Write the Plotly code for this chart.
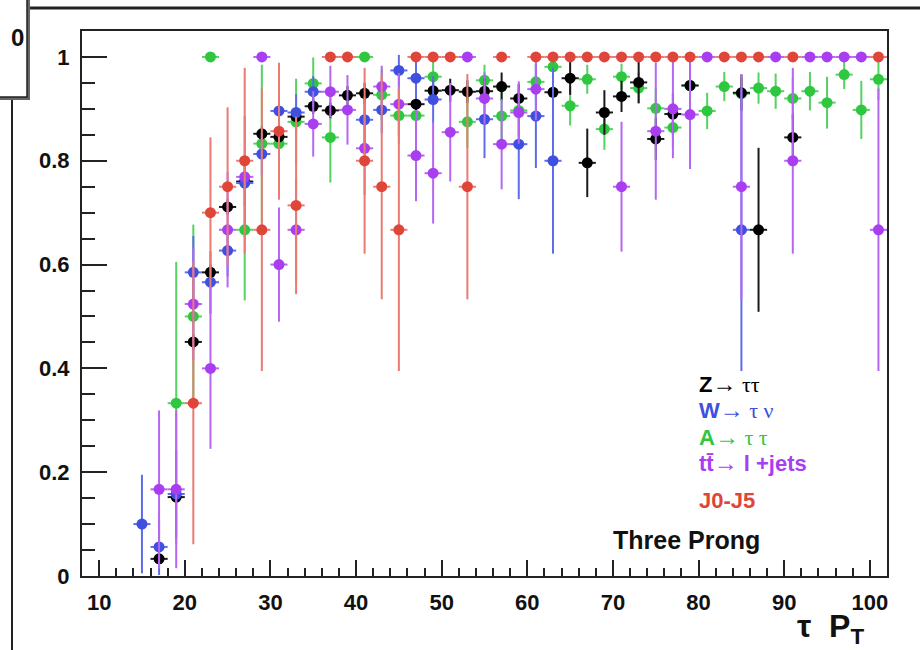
import plotly.graph_objects as go

# ---------------- data ----------------
bins = list(range(15, 102, 2))  # tau pT bin centres (GeV)
N = None

z_tautau = [N, 0.033, 0.152, 0.451, 0.585, 0.711, 0.760, 0.852, 0.846, 0.885, 0.905, 0.897, 0.926, 0.930,
            N, N, 0.909, 0.935, 0.936, 0.933, 0.934, 0.943, 0.920, N, 0.932, 0.959, 0.796, 0.893, 0.924,
            0.951, 0.842, 0.890, 0.945, N, N, 0.931, 0.667, N, 0.845, N, N, N, N, N]
z_err = [N, 0.010, 0.012, 0.015, 0.015, 0.015, 0.015, 0.015, 0.015, 0.015, 0.015, 0.015, 0.018, 0.020,
         N, N, 0.020, 0.020, 0.022, 0.022, 0.025, 0.027, 0.028, N, 0.035, 0.032, 0.066, 0.043, 0.030,
         0.040, 0.040, 0.040, 0.040, N, N, 0.035, 0.158, N, 0.045, N, N, N, N, N]

w_taunu = [0.100, 0.056, 0.158, 0.585, 0.566, 0.627, 0.757, 0.813, 0.896, 0.893, 0.933, N, N, 0.879,
           0.898, 0.974, 0.959, 0.918, N, N, 0.880, N, 0.832, 0.886, 0.800, N, N, N, N,
           N, N, N, N, N, N, 0.667, N, N, N, N, N, N, N, N]
w_err = [0.095, 0.054, 0.084, 0.070, 0.060, 0.050, 0.045, 0.040, 0.035, 0.035, 0.030, N, N, 0.045,
         0.045, 0.030, 0.040, 0.045, N, N, 0.075, N, 0.106, 0.100, 0.179, N, N, N, N,
         N, N, N, N, N, N, 0.272, N, N, N, N, N, N, N, N]

a_tautau = [N, N, 0.333, 0.500, 1.000, N, 0.667, 0.833, 0.833, 0.875, 0.949, 0.845, N, 1.000,
            0.927, 0.887, 0.887, 0.962, N, 0.875, 0.955, 0.886, 0.897, 0.952, 0.981, 0.906, 0.957, 0.861, 0.962,
            0.940, 0.901, 0.864, 0.945, 0.896, 0.943, 0.929, 0.940, 0.934, 0.920, 0.934, 0.912, 0.966, 0.898, 0.957]
a_err = [N, N, 0.272, 0.177, 0.0, N, 0.136, 0.152, 0.100, 0.083, 0.050, 0.087, N, 0.0,
         0.050, 0.055, 0.055, 0.030, N, 0.050, 0.030, 0.050, 0.050, 0.035, 0.020, 0.038, 0.028, 0.040, 0.025,
         0.030, 0.040, 0.040, 0.030, 0.035, 0.028, 0.030, 0.030, 0.034, 0.040, 0.037, 0.050, 0.028, 0.056, 0.040]

ttbar = [N, 0.167, 0.167, 0.524, 0.400, 0.667, 0.769, 1.000, 0.600, 0.667, 0.871, 0.933, 0.898, 0.824,
         0.943, 0.909, 0.810, 0.776, 0.855, 1.000, 0.920, 0.832, 0.893, 0.938, N, N, N, N, 0.750,
         N, 0.857, 0.900, 0.889, 1.000, N, 0.750, N, 1.000, 0.800, 1.000, 1.000, 1.000, 1.000, 0.667]
tt_err = [N, 0.152, 0.152, 0.109, 0.155, 0.111, 0.117, 0.0, 0.110, 0.100, 0.063, 0.050, 0.067, 0.090,
          0.040, 0.060, 0.088, 0.097, 0.095, 0.0, 0.050, 0.087, 0.060, 0.060, N, N, N, N, 0.125,
          N, 0.132, 0.095, 0.105, 0.0, N, 0.217, N, 0.0, 0.179, 0.0, 0.0, 0.0, 0.0, 0.272]

j0j5 = [N, N, N, 0.333, 0.700, 0.750, 0.800, 0.667, 0.857, 0.714, N, 1.000, 1.000, 0.800,
        0.750, 0.667, 1.000, 1.000, 1.000, 0.750, N, 1.000, N, 1.000, 1.000, 1.000, 1.000, 1.000, 1.000,
        1.000, 1.000, 1.000, 1.000, N, 1.000, 1.000, 1.000, N, 1.000, N, N, N, N, 1.000]
j_err = [N, N, N, 0.272, 0.145, 0.153, 0.179, 0.272, 0.132, 0.171, N, 0.0, 0.0, 0.179,
         0.217, 0.272, 0.0, 0.0, 0.0, 0.217, N, 0.0, N, 0.0, 0.0, 0.0, 0.0, 0.0, 0.0,
         0.0, 0.0, 0.0, 0.0, N, 0.0, 0.0, 0.0, N, 0.0, N, N, N, N, 0.0]

half_bin = 1.0
x_ticks = [10, 20, 30, 40, 50, 60, 70, 80, 90, 100]
y_ticks = [0, 0.2, 0.4, 0.6, 0.8, 1.0]
y_ticktext = ["0", "0.2", "0.4", "0.6", "0.8", "1"]

# ---------------- figure ----------------
fig = go.Figure()

series = [
    ("A→ττ", a_tautau, a_err, "#2fc740", "#55d262"),
    ("Z→ττ", z_tautau, z_err, "#000000", "#1a1a1a"),
    ("W→τν", w_taunu, w_err, "#3f4fe0", "#5f6cea"),
    ("tt→l+jets", ttbar, tt_err, "#a83ef0", "#b566f2"),
    ("J0-J5", j0j5, j_err, "#e0453a", "#ea7a72"),
]
for name, vals, errs, col, lcol in series:
    fig.add_trace(go.Scatter(
        x=bins, y=vals, mode="markers", name=name, showlegend=False,
        marker=dict(symbol="circle", size=11, color=col, line=dict(width=0)),
        error_y=dict(type="data", array=errs, symmetric=True, color=lcol, thickness=2, width=0),
        error_x=dict(type="constant", value=half_bin, color=lcol, thickness=2, width=0),
        cliponaxis=True,
    ))

L, R, T, B = 82, 887, 31, 576
W, H = 920, 650


def px(xp):
    return (xp - L) / (R - L)


def py(yp):
    return (B - yp) / (B - T)


font_main = "Liberation Sans, Arial, sans-serif"
tick_font = dict(family=font_main, size=22, color="#111111", weight="bold")

fig.update_layout(
    width=W, height=H, autosize=False,
    margin=dict(l=L, r=W - R, t=T, b=H - B, pad=0),
    paper_bgcolor="white", plot_bgcolor="white",
    xaxis=dict(range=[8, 102], showgrid=False, zeroline=False,
               showline=True, linecolor="#222222", linewidth=2, mirror=True,
               ticks="inside", ticklen=16, tickwidth=2, tickcolor="#222222",
               tickvals=x_ticks, ticktext=[str(v) for v in x_ticks],
               tickfont=tick_font, ticklabelstandoff=6,
               minor=dict(ticks="inside", ticklen=8, tickwidth=1.5, tickcolor="#222222",
                          dtick=2, tick0=0, showgrid=False)),
    yaxis=dict(range=[0, 1.05], showgrid=False, zeroline=False,
               showline=True, linecolor="#222222", linewidth=2, mirror=True,
               ticks="inside", ticklen=25, tickwidth=2, tickcolor="#222222",
               tickvals=y_ticks, ticktext=y_ticktext,
               tickfont=tick_font, ticklabelstandoff=6,
               minor=dict(ticks="inside", ticklen=13, tickwidth=1.5, tickcolor="#222222",
                          dtick=0.05, tick0=0, showgrid=False)),
)

shapes = [
    # pad border (top and left)
    dict(type="line", xref="paper", yref="paper", x0=px(27), x1=px(921), y0=py(8), y1=py(8),
         line=dict(color="#222222", width=3)),
    dict(type="line", xref="paper", yref="paper", x0=px(12), x1=px(12), y0=py(98), y1=py(651),
         line=dict(color="#222222", width=2)),
    # top-left stats-box shadow and box
    dict(type="rect", xref="paper", yref="paper", x0=px(-5), x1=px(30), y0=py(-5), y1=py(100),
         fillcolor="#666666", line=dict(width=0)),
    dict(type="rect", xref="paper", yref="paper", x0=px(-5), x1=px(27), y0=py(-5), y1=py(97),
         fillcolor="white", line=dict(color="#222222", width=1.5)),
]

annotations = [
    dict(text="<b>0</b>", x=px(17), y=py(37), xref="paper", yref="paper", showarrow=False,
         xanchor="center", yanchor="middle", font=dict(family=font_main, size=24, color="#111111")),
]

arrow = "<span style='font-family:Liberation Serif;font-size:24px'>→</span>"
greek = "<span style='font-family:Liberation Serif'>{}</span>"
legend_items = [
    ("<b>Z</b>" + arrow + greek.format(" ττ"), "#000000", 384),
    ("<b>W</b>" + arrow + greek.format(" τ ν"), "#3f4fe0", 410),
    ("<b>A</b>" + arrow + greek.format(" τ τ"), "#2fc740", 437),
    ("<b>tt\u0304</b>" + arrow + " <b>l +jets</b>", "#a83ef0", 463),
    ("<b>J0-J5</b>", "#e0453a", 501),
]
for txt, col, ypix in legend_items:
    annotations.append(dict(text=txt, x=px(697), y=py(ypix), xref="paper", yref="paper",
                            showarrow=False, xanchor="left", yanchor="middle",
                            font=dict(family=font_main, size=22, color=col)))

annotations.append(dict(text="<b>Three Prong</b>", x=px(611), y=py(540), xref="paper", yref="paper",
                        showarrow=False, xanchor="left", yanchor="middle",
                        font=dict(family=font_main, size=25, color="#111111")))
annotations.append(dict(text="<b>τ  P<sub>T</sub></b>", x=px(866), y=py(628), xref="paper", yref="paper",
                        showarrow=False, xanchor="right", yanchor="middle",
                        font=dict(family=font_main, size=32, color="#111111")))

fig.update_layout(shapes=shapes, annotations=annotations)

fig.write_html("out.html")
